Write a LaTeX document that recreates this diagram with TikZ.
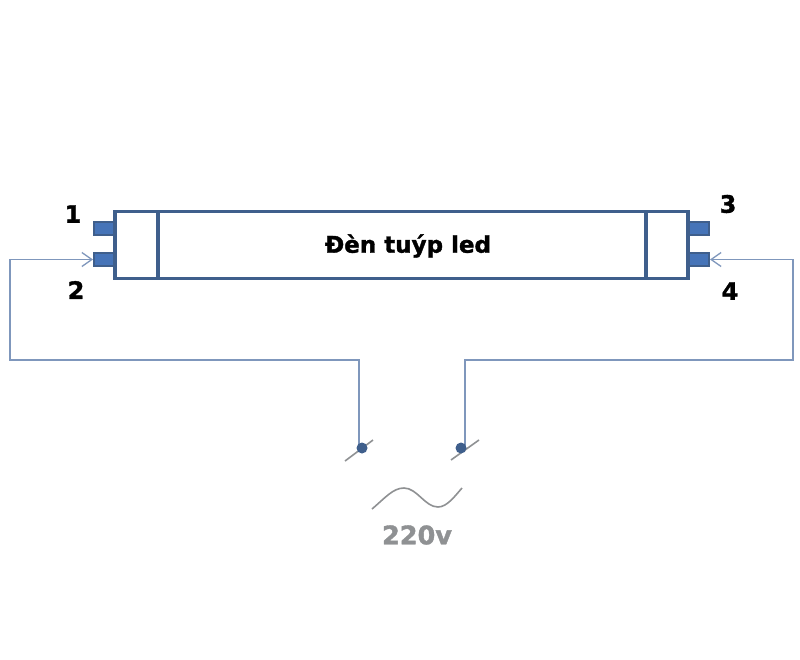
\documentclass[tikz,border=0pt]{standalone}
\usepackage{fontspec}
\setmainfont{DejaVu Sans}
\newfontfamily\heavyfont[FakeBold=1.5]{DejaVu Sans Bold}
\usetikzlibrary{arrows.meta}
\definecolor{tubeblue}{HTML}{3F5F8C}
\definecolor{pinblue}{HTML}{4674B8}
\definecolor{wireblue}{HTML}{7F97BC}
\definecolor{mainsgray}{HTML}{8F9193}
\tikzset{
  pin/.style={draw=tubeblue, fill=pinblue, line width=2pt, minimum width=20pt, minimum height=13pt, inner sep=0pt, outer sep=1pt},
  wire/.style={color=wireblue, line width=1.6pt},
  wiretip/.style={-{Straight Barb[length=10pt,width=14pt,line width=1.3pt]}},
  terminal/.style={circle, fill=tubeblue, minimum size=11pt, inner sep=0pt},
  slash/.style={color=mainsgray, line width=1.6pt},
  pinlabel/.style={font=\heavyfont\fontsize{24}{26}\selectfont, text=black, inner sep=0pt}
}
\begin{document}
\begin{tikzpicture}[x=1pt, y=-1pt]
\useasboundingbox (0,0) rectangle (800,659);
\fill[white] (0,0) rectangle (800,659);
% tube
\node[draw=tubeblue, line width=3.6pt, minimum width=573pt, minimum height=67pt, inner sep=0pt, outer sep=0pt] (tube) at (401.5,245) {};
\node[font=\heavyfont\fontsize{23}{26}\selectfont, inner sep=0pt] (tubename) at (408,246) {Đèn tuýp led};
\draw[color=tubeblue, line width=3.2pt] (tube.north west) ++(43,0) -- ++(0,67);
\draw[color=tubeblue, line width=3.2pt] (tube.north east) ++(-42,0) -- ++(0,67);
% pins
\node[pin] (pin1) at (104,228) {};
\node[pin] (pin2) at (104,259.5) {};
\node[pin] (pin3) at (699,228) {};
\node[pin] (pin4) at (699,259.5) {};
\node[pinlabel] (num1) at (73,214) {1};
\node[pinlabel] (num2) at (76,290) {2};
\node[pinlabel] (num3) at (728,204) {3};
\node[pinlabel] (num4) at (730,291) {4};
% terminals
\coordinate (slashla) at (345,461);
\coordinate (slashlb) at (373,440);
\coordinate (slashra) at (451,460);
\coordinate (slashrb) at (479,440);
\draw[slash] (slashla) -- (slashlb);
\draw[slash] (slashra) -- (slashrb);
\coordinate (wirel) at (359,447);
\coordinate (wirer) at (465,447);
\coordinate (bendla) at (359,360);
\coordinate (bendlb) at (10,360);
\coordinate (bendlc) at (10,259.5);
\coordinate (bendra) at (465,360);
\coordinate (bendrb) at (793,360);
\coordinate (bendrc) at (793,259.5);
\draw[wire, wiretip] (wirel) -- (bendla) -- (bendlb) -- (bendlc) -- (pin2.west);
\draw[wire, wiretip] (wirer) -- (bendra) -- (bendrb) -- (bendrc) -- (pin4.east);
\node[terminal] (terml) at (362,448) {};
\node[terminal] (termr) at (461,448) {};
% mains
\draw[slash] (372,509) .. controls (385,498) and (393,488) .. (404,488)
  .. controls (417,488) and (425,507) .. (438,507) .. controls (447,507) and (455,496) .. (462,488);
\node[font=\heavyfont\fontsize{25.5}{28}\selectfont, text=mainsgray, inner sep=0pt] (mains) at (417,535) {220v};
\end{tikzpicture}
\end{document}
